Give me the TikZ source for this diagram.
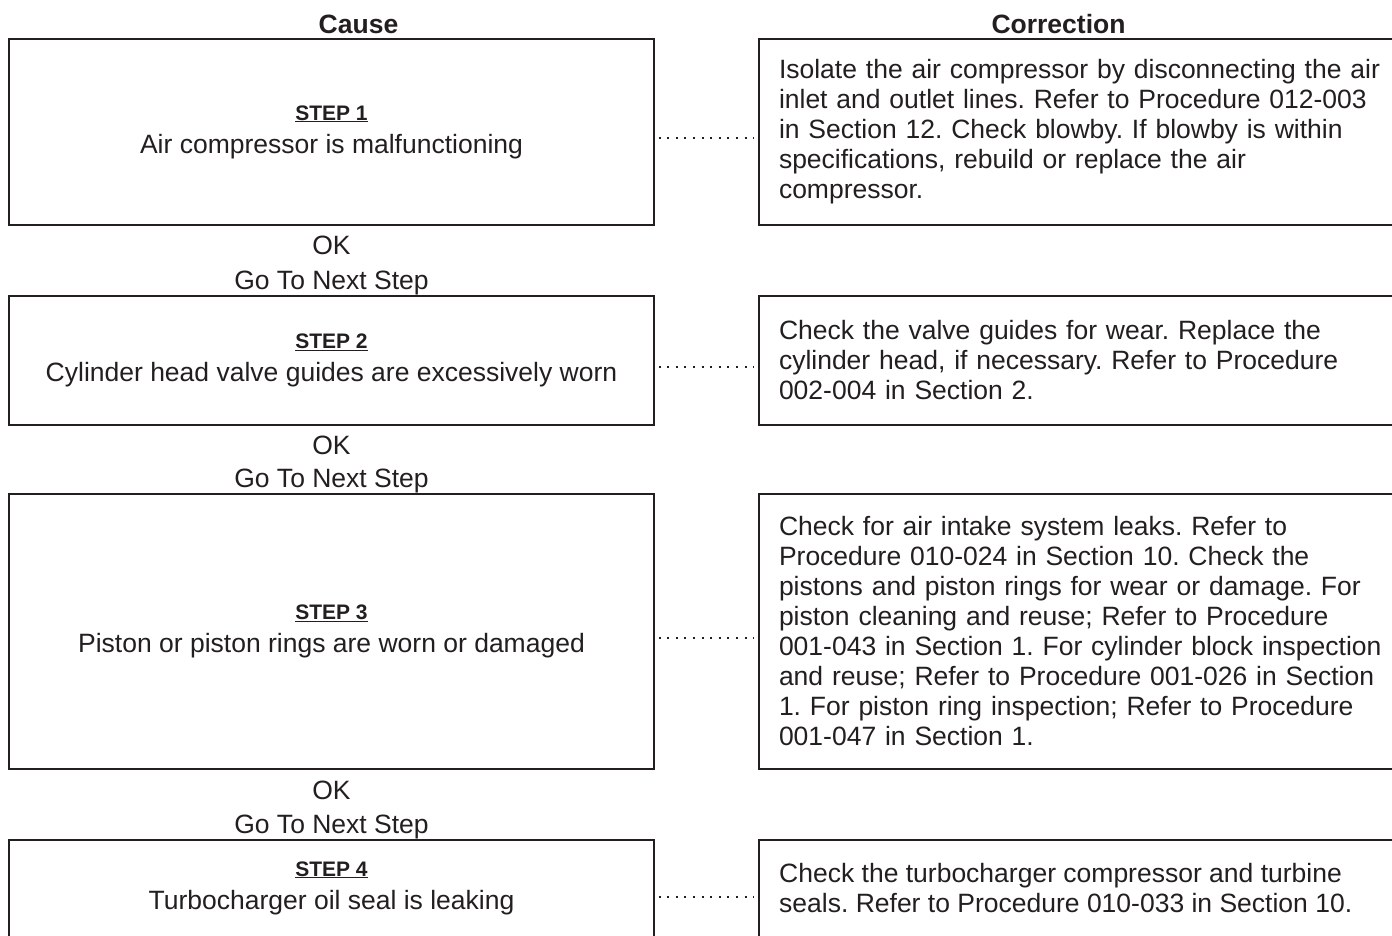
\documentclass[tikz,border=0pt]{standalone}
\usepackage{fontspec}
\setmainfont{Liberation Sans}
\frenchspacing
\definecolor{ink}{HTML}{231F20}
\newcommand{\steplabel}[1]{{\fontsize{21}{24}\selectfont\bfseries\underline{#1}}}
\tikzset{
  body/.style={font=\fontsize{26.5}{30}\selectfont, text=ink},
  cbox/.style={draw=ink, line width=2pt, minimum width=645pt, inner sep=0pt, align=center, body},
  rbox/.style={draw=ink, line width=2pt, minimum width=661pt, inner xsep=20pt, inner ysep=0pt, text width=621pt, align=left, body},
  ctext/.style={inner sep=0pt, align=center, body},
  rtext/.style={inner sep=0pt, align=left, anchor=west, body},
  header/.style={font=\fontsize{26.5}{30}\selectfont\bfseries, text=ink, inner sep=0pt},
  okstyle/.style={inner sep=0pt, body},
  dotline/.style={draw=ink, line width=2pt, dash pattern=on 2pt off 6.6pt},
}
\begin{document}
\begin{tikzpicture}[x=1pt,y=1pt]
\clip (0,0) rectangle (1392,-936);
\fill[white] (0,0) rectangle (1392,-936);

\node[header] (hcause) at (358.5,-24) {Cause};
\node[header] (hcorr) at (1058.5,-24) {Correction};

% Step 1
\node[cbox, minimum height=186pt] (c1) at (331.5,-132) {\steplabel{STEP 1}\\[3pt]Air compressor is malfunctioning};
\node[rbox, minimum height=186pt] (r1) at (1089.5,-132) {Isolate the air compressor by disconnecting the air\\inlet and outlet lines. Refer to Procedure 012-003\\in Section 12. Check blowby. If blowby is within\\specifications, rebuild or replace the air\\compressor.};
\draw[dotline] ([xshift=3.5pt,yshift=-6pt]c1.east) -- ([xshift=-4pt,yshift=-6pt]r1.west);
\node[okstyle] (ok1) at (331.5,-245) {OK};
\node[okstyle] (go1) at (331.5,-283) {Go To Next Step};

% Step 2
\node[cbox, minimum height=129pt] (c2) at (331.5,-360.5) {\steplabel{STEP 2}\\[3pt]Cylinder head valve guides are excessively worn};
\node[rbox, minimum height=129pt] (r2) at (1089.5,-360.5) {Check the valve guides for wear. Replace the\\cylinder head, if necessary. Refer to Procedure\\002-004 in Section 2.};
\draw[dotline] ([xshift=3.5pt,yshift=-6.5pt]c2.east) -- ([xshift=-4pt,yshift=-6.5pt]r2.west);
\node[okstyle] (ok2) at (331.5,-445) {OK};
\node[okstyle] (go2) at (331.5,-481) {Go To Next Step};

% Step 3
\node[cbox, minimum height=275pt] (c3) at (331.5,-631.5) {\steplabel{STEP 3}\\[3pt]Piston or piston rings are worn or damaged};
\node[rbox, minimum height=275pt] (r3) at (1089.5,-631.5) {Check for air intake system leaks. Refer to\\Procedure 010-024 in Section 10. Check the\\pistons and piston rings for wear or damage. For\\piston cleaning and reuse; Refer to Procedure\\001-043 in Section 1. For cylinder block inspection\\and reuse; Refer to Procedure 001-026 in Section\\1. For piston ring inspection; Refer to Procedure\\001-047 in Section 1.};
\draw[dotline] ([xshift=3.5pt,yshift=-6.5pt]c3.east) -- ([xshift=-4pt,yshift=-6.5pt]r3.west);
\node[okstyle] (ok3) at (331.5,-790) {OK};
\node[okstyle] (go3) at (331.5,-827) {Go To Next Step};

% Step 4
\node[cbox, minimum height=160pt] (c4) at (331.5,-920) {};
\node[rbox, minimum height=160pt] (r4) at (1089.5,-920) {};
\node[ctext] (t4) at (331.5,-888) {\steplabel{STEP 4}\\[3pt]Turbocharger oil seal is leaking};
\node[rtext] (s4) at (779,-888) {Check the turbocharger compressor and turbine\\seals. Refer to Procedure 010-033 in Section 10.};
\draw[dotline] ([xshift=3.5pt,yshift=23pt]c4.east) -- ([xshift=-4pt,yshift=23pt]r4.west);
\end{tikzpicture}
\end{document}
